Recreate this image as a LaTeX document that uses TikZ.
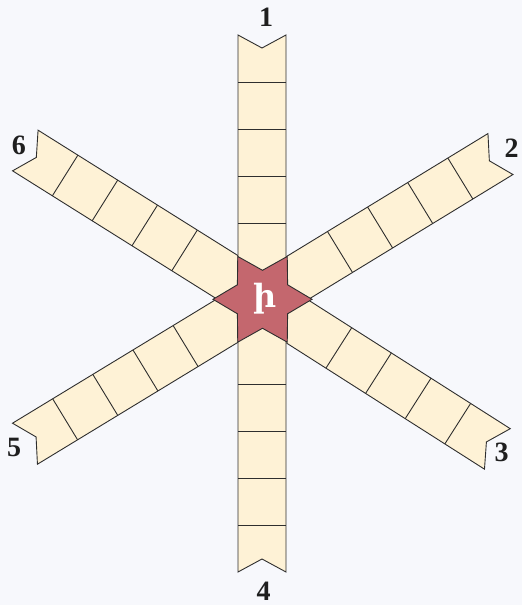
\documentclass[tikz,border=0pt]{standalone}
\usepackage{fontspec}
\newfontfamily\armfont{DejaVu Serif}
\newfontfamily\numfont{Liberation Serif}
\definecolor{bgc}{HTML}{F7F8FC}
\definecolor{armc}{HTML}{FEF2D6}
\definecolor{starc}{HTML}{C4676E}
\definecolor{linec}{HTML}{2E2E2E}
\tikzset{
  armbody/.style={fill=armc, draw=linec, line width=0.9pt, line join=miter},
  cellline/.style={draw=linec, line width=0.9pt},
  starbody/.style={fill=starc, draw=linec, line width=0.9pt, line join=miter},
  numlabel/.style={anchor=base, inner sep=0pt, text=black!88, font=\numfont\bfseries\fontsize{28}{32}\selectfont},
  glyphlabel/.style={anchor=base, inner sep=0pt, text=white, font=\armfont\bfseries\fontsize{32}{36}\selectfont}
}
\newcommand\armpiece[4]{%
  \begin{scope}[shift={(#1,#2)}, rotate=#3]
    \path[armbody] (0,-24) -- ({#4+188},-24) -- ({#4+175},0) -- ({#4+188},24) -- (0,24) -- cycle;
    \foreach \k in {0,1,2,3} \path[cellline] ({#4+47*\k},-24) -- ({#4+47*\k},24);
  \end{scope}}
\begin{document}
\begin{tikzpicture}[x=1pt,y=1pt]
\useasboundingbox (0,0) rectangle (522,605);
\fill[bgc] (0,0) rectangle (522,605);
% diagonal arms
\armpiece{262.5}{305.7}{31.4}{90.8}
\armpiece{262.5}{305.7}{211.3}{90}
\armpiece{262.5}{305.7}{147.9}{92}
\armpiece{262.5}{305.7}{-32.5}{90.5}
% vertical arms
\armpiece{262}{305.7}{90}{76.3}
\armpiece{262}{305.7}{270}{84.7}
% star
\begin{scope}[shift={(262.5,305.7)}]
  \path[starbody] (0:49.5) \foreach \i in {1,...,11}{ -- ({30*\i}:{ifthenelse(isodd(\i),29,49.5)}) } -- cycle;
\end{scope}
\node[glyphlabel] (glyph) at (265.5,297) {ի};
% labels
\node[numlabel] (n1) at (266,578) {1};
\node[numlabel] (n2) at (511.5,447) {2};
\node[numlabel] (n3) at (501.5,143) {3};
\node[numlabel] (n4) at (263.5,5) {4};
\node[numlabel] (n5) at (14,148) {5};
\node[numlabel] (n6) at (19,450) {6};
\end{tikzpicture}
\end{document}
